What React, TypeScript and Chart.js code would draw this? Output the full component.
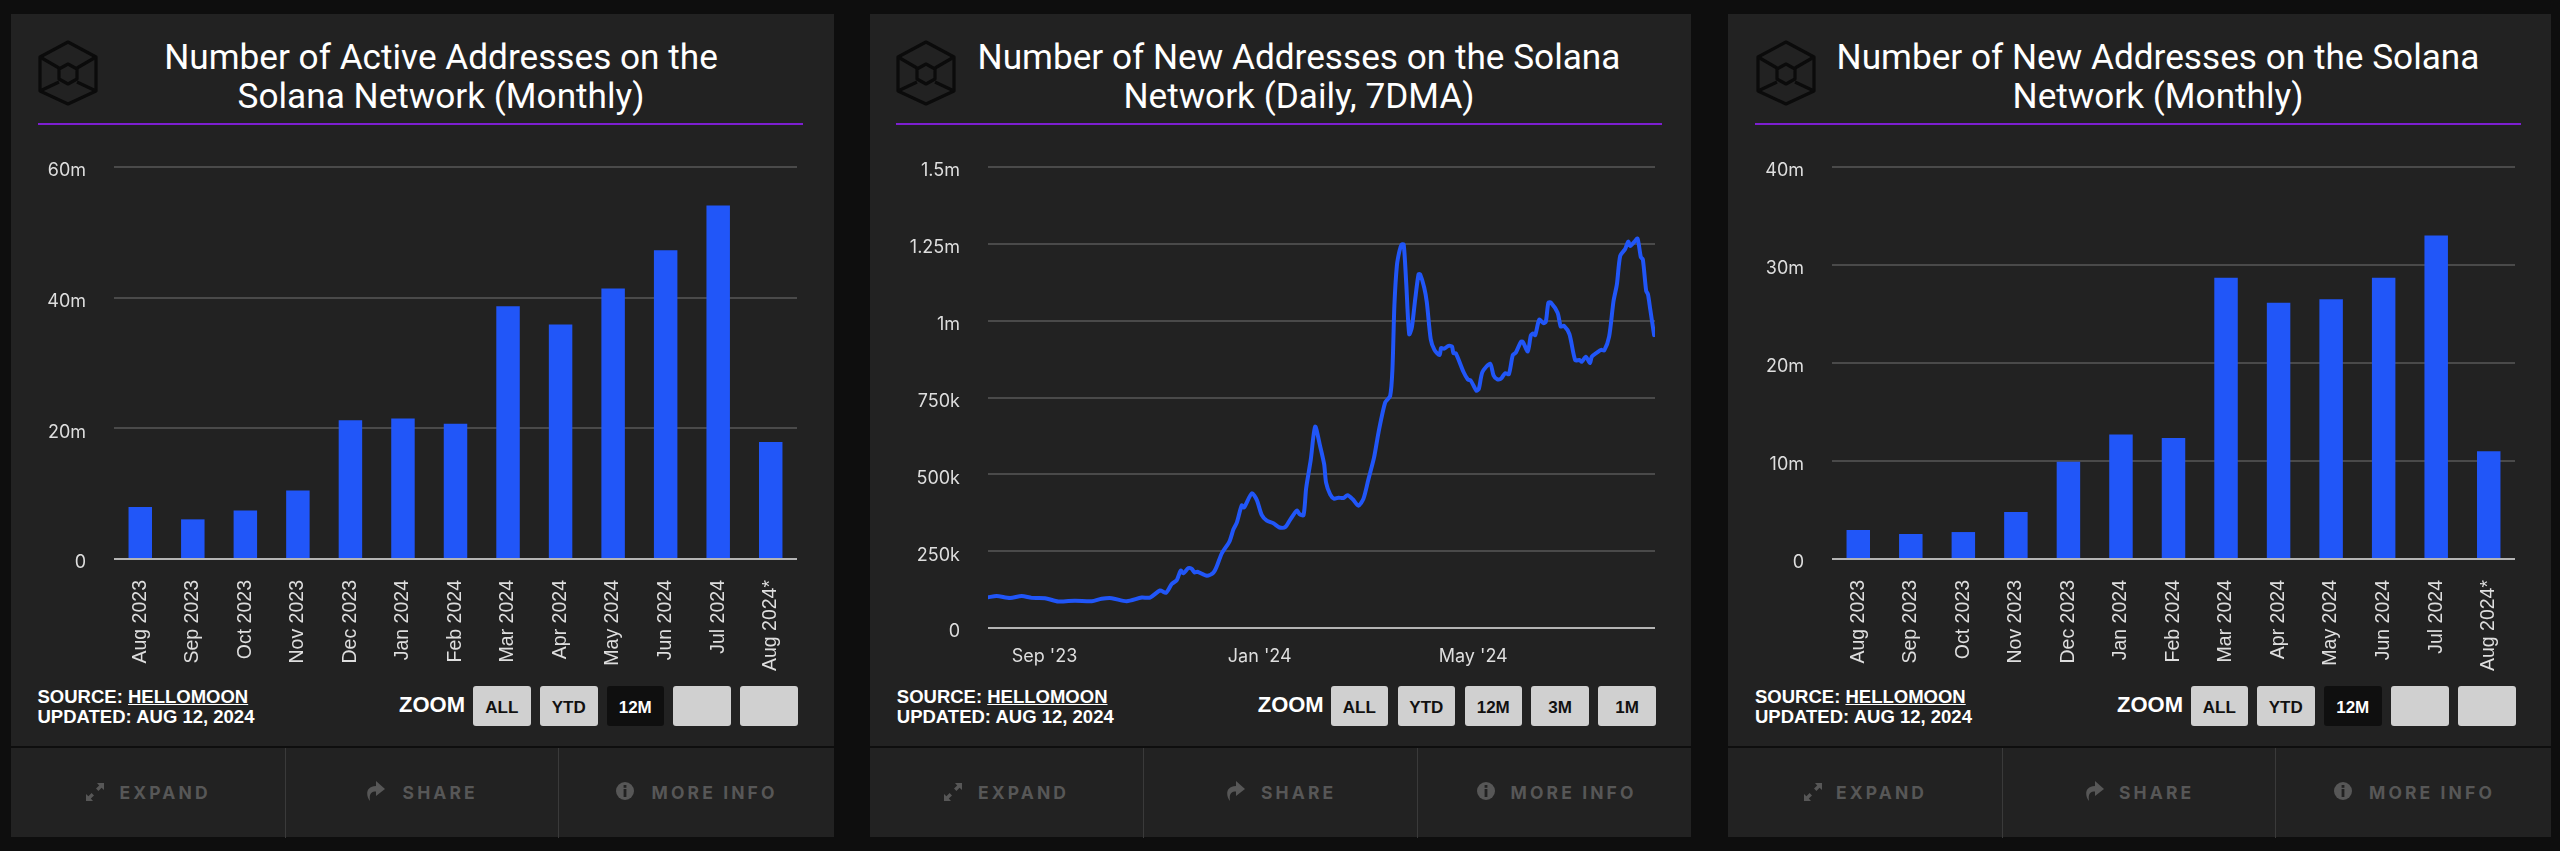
import React, { useEffect, useRef } from "react";
import { Chart, registerables } from "chart.js";

Chart.register(...registerables);

const monthLabels = ["Aug 2023", "Sep 2023", "Oct 2023", "Nov 2023", "Dec 2023", "Jan 2024", "Feb 2024", "Mar 2024", "Apr 2024", "May 2024", "Jun 2024", "Jul 2024", "Aug 2024*"];
const activeAddresses = [7.95, 6.07, 7.44, 10.5, 21.25, 21.5, 20.7, 38.7, 35.9, 41.4, 47.25, 54.1, 17.9];
const newAddressesMonthly = [2.96, 2.55, 2.75, 4.8, 9.93, 12.7, 12.35, 28.7, 26.15, 26.5, 28.7, 33, 11];
const activeTickLabels = ["0", "20m", "40m", "60m"];
const monthlyTickLabels = ["0", "10m", "20m", "30m", "40m"];
const dailyTickLabels = ["0", "250k", "500k", "750k", "1m", "1.25m", "1.5m"];
const dailyMonthDays = [32, 154, 275];
const dailyMonthLabels = ["Sep '23", "Jan '24", "May '24"];

// days since the start of the window
const dailyDays = [0, 4.9, 12.5, 19.1, 24.8, 32.3, 39.9, 49.3, 58.8, 64.4, 70.1, 78.6, 87.1, 91.8, 97.5, 100.9, 104.1, 107, 109.2, 110.7, 113.6, 115.5, 117, 118.7, 124, 127.7, 129.6, 132.5, 136.8, 139.1, 141, 143.8, 145.1, 149.5, 152.3, 155.1, 158, 161.7, 165.2, 168.4, 171.2, 175, 176.5, 178.8, 180.3, 182.9, 185.4, 188.2, 190.5, 191.6, 193.9, 196.1, 198.6, 201.4, 203.7, 206.7, 209.9, 212.8, 215.6, 218.8, 221.3, 225.1, 227.9, 229.2, 230.3, 231.7, 233.2, 234.5, 235.6, 237, 238.7, 240.2, 242.1, 244, 244.9, 247.2, 248.7, 250.9, 253, 255.9, 256.8, 258.5, 261, 262.9, 263.8, 265.1, 269.5, 271.9, 273.6, 276.8, 278.2, 280.2, 284.6, 286.5, 288.7, 290.8, 293.1, 295.2, 297.4, 299.1, 302, 303.1, 305.9, 307.6, 308.8, 310.1, 312.4, 314.8, 316.1, 317.6, 319, 322.8, 324.6, 326.5, 329.5, 332.8, 335.2, 336.5, 338.8, 341.1, 342.2, 345.1, 347.5, 349.2, 352, 354.5, 356.4, 358.3, 361.1, 362.8, 364, 366.4, 368.1, 370, 371.1, 373, 374, 375.3, 377.5];
const dailyNewAddresses = [100, 104, 98, 104, 98, 97, 86, 89, 87, 95, 97, 87, 99, 99, 122, 115, 143, 156, 187, 178, 195, 192, 181, 183, 170, 180, 200, 243, 281, 321, 343, 399, 392, 438, 417, 368, 349, 341, 327, 328, 352, 382, 371, 367, 455, 547, 655, 592, 533, 473, 435, 421, 424, 423, 432, 419, 398, 421, 484, 555, 636, 734, 755, 842, 1048, 1178, 1227, 1248, 1248, 1124, 956, 978, 1070, 1151, 1151, 1108, 1059, 940, 905, 888, 911, 909, 918, 916, 894, 894, 833, 809, 805, 772, 779, 833, 860, 822, 809, 812, 829, 826, 888, 896, 931, 931, 900, 951, 958, 953, 1003, 992, 996, 1059, 1059, 1026, 981, 983, 956, 871, 872, 866, 883, 862, 883, 896, 905, 903, 948, 1064, 1118, 1211, 1233, 1257, 1243, 1257, 1267, 1206, 1200, 1097, 1086, 1037, 953];

const titles = [
  ["Number of Active Addresses on the", "Solana Network (Monthly)"],
  ["Number of New Addresses on the Solana", "Network (Daily, 7DMA)"],
  ["Number of New Addresses on the Solana", "Network (Monthly)"],
];
const zoomLabels = [["ALL", "YTD", "12M", "", ""], ["ALL", "YTD", "12M", "3M", "1M"], ["ALL", "YTD", "12M", "", ""]];

const BLUE = "#2156f8";
const NARROW = "'Liberation Sans Narrow', 'Liberation Sans', sans-serif";
const UI = "Inter, sans-serif";
const CANVAS_TOP = 140;
const CANVAS_H = 540;
const TOP = 167;
const panels = [
  { left: 11, width: 823, gridL: 114, gridR: 797, base: 559, text: 37.5, rule: [37.5, 803], logo: 40, center: 441, zoomX: 399, btn: [473, 540, 606.5, 673, 740], btnW: 57.5, div: [284.7, 558.4], exp: [86, 119.6], sh: [366, 402.6], mi: [616, 651.6] },
  { left: 870, width: 821, gridL: 988, gridR: 1655, base: 628, text: 896.8, rule: [896, 1662], logo: 898, center: 1299, zoomX: 1257.7, btn: [1330.6, 1397.6, 1464.5, 1531.4, 1598.3], btnW: 57.5, div: [1142.5, 1417], exp: [944, 978], sh: [1226.4, 1261], mi: [1476.6, 1510.6] },
  { left: 1728, width: 823, gridL: 1832, gridR: 2515, base: 559, text: 1755, rule: [1755, 2521], logo: 1758, center: 2158, zoomX: 2117, btn: [2190.6, 2257, 2324, 2391, 2458], btnW: 57.5, div: [2001.5, 2275], exp: [1804, 1836], sh: [2084.7, 2119], mi: [2334, 2369] },
];

function gridOpts() {
  return {
    drawTicks: false,
    color: (c: any) => (c.tick && c.tick.value === 0 ? "#b4b4b4" : "#4a4a4a"),
    lineWidth: 2,
  };
}

function yAxis(p: any, max: number, step: number, labels: string[]) {
  return {
    min: 0,
    max,
    border: { display: false },
    grid: gridOpts(),
    afterFit: (s: any) => { s.width = p.gridL - p.left; s.paddingTop = 0; s.paddingBottom = 0; },
    ticks: {
      stepSize: step,
      padding: 28,
      color: "#dedede",
      labelOffset: 4,
      font: { family: UI, size: 18, weight: 400 },
      callback: (_v: any, i: number) => labels[i],
    },
  };
}

function buildConfig(i: number): any {
  const p = panels[i];
  const layout = { padding: { top: TOP - CANVAS_TOP, right: p.left + p.width - p.gridR, left: 0, bottom: 0 } };
  const plugins = { legend: { display: false }, tooltip: { enabled: false }, title: { display: false } };
  const xFit = (s: any) => { s.height = CANVAS_TOP + CANVAS_H - p.base; s.paddingLeft = 0; s.paddingRight = 0; };
  if (i === 1) {
    return {
      type: "line",
      data: {
        datasets: [{
          data: dailyDays.map((d, k) => ({ x: d, y: dailyNewAddresses[k] * 1000 })),
          borderColor: BLUE, borderWidth: 4, pointRadius: 0, tension: 0.25, borderJoinStyle: "round", borderCapStyle: "round",
        }],
      },
      options: {
        animation: false, responsive: false, parsing: false, layout, plugins,
        scales: {
          x: {
            type: "linear", min: 0, max: 378,
            border: { display: false }, grid: { display: false, drawTicks: false },
            afterFit: xFit,
            afterBuildTicks: (s: any) => { s.ticks = dailyMonthDays.map((value) => ({ value })); },
            ticks: {
              autoSkip: false, maxRotation: 0, minRotation: 0, padding: 18, color: "#dedede",
              font: { family: UI, size: 18, weight: 400 },
              callback: (_v: any, k: number) => dailyMonthLabels[k],
            },
          },
          y: yAxis(p, 1500000, 250000, dailyTickLabels),
        },
      },
    };
  }
  const values = i === 0 ? activeAddresses : newAddressesMonthly;
  return {
    type: "bar",
    data: {
      labels: monthLabels,
      datasets: [{ data: values, backgroundColor: BLUE, barPercentage: 0.447, categoryPercentage: 1 }],
    },
    options: {
      animation: false, responsive: false, layout, plugins,
      scales: {
        x: {
          border: { display: false }, grid: { display: false, drawTicks: false },
          afterFit: xFit,
          ticks: {
            autoSkip: false, maxRotation: 90, minRotation: 90, padding: 21, color: "#dedede",
            font: { family: "'Liberation Sans', Arial, sans-serif", size: 19.5 },
          },
        },
        y: i === 0 ? yAxis(p, 60, 20, activeTickLabels) : yAxis(p, 40, 10, monthlyTickLabels),
      },
    },
  };
}

function ChartCanvas({ i }: { i: number }) {
  const ref = useRef<HTMLCanvasElement>(null);
  const p = panels[i];
  useEffect(() => {
    const c = new Chart(ref.current as HTMLCanvasElement, buildConfig(i));
    return () => c.destroy();
  }, [i]);
  return <canvas ref={ref} width={p.width} height={CANVAS_H} style={{ position: "absolute", left: p.left, top: CANVAS_TOP, width: p.width, height: CANVAS_H }} />;
}

function Logo({ x }: { x: number }) {
  return (
    <svg style={{ position: "absolute", left: x, top: 40 }} width="62" height="66" viewBox="0 0 62 66" fill="none" stroke="#0b0b0b" strokeWidth="3.2" strokeLinejoin="round">
      <path d="M30 2 L58 17 L58 51 L30 64 L2 51 L2 17 Z" />
      <path d="M2 17 L21 28 M58 17 L39 28 M2 51 L21 42 M58 51 L39 42" />
      <path d="M30 24 L39 29 L39 39 L30 44 L21 39 L21 29 Z" />
    </svg>
  );
}

function ExpandIcon({ x }: { x: number }) {
  return (
    <svg style={{ position: "absolute", left: x, top: 783 }} width="18" height="18" viewBox="0 0 18 18" fill="#575757">
      <path d="M11 0 L18 0 L18 7 L15.6 4.8 L12.4 8 L10 5.6 L13.2 2.4 Z" />
      <path d="M7 18 L0 18 L0 11 L2.4 13.2 L5.6 10 L8 12.4 L4.8 15.6 Z" />
    </svg>
  );
}
function ShareIcon({ x }: { x: number }) {
  return (
    <svg style={{ position: "absolute", left: x, top: 781 }} width="19" height="20" viewBox="0 0 19 20" fill="#575757">
      <path d="M10 0 L19 8 L10 15 L10 10.5 C5 10.5 3 13 4 20 C0 16 -1 5 10 5 Z" />
    </svg>
  );
}
function InfoIcon({ x }: { x: number }) {
  return (
    <svg style={{ position: "absolute", left: x, top: 782 }} width="18" height="18" viewBox="0 0 18 18">
      <circle cx="9" cy="9" r="9" fill="#575757" />
      <rect x="7.6" y="3" width="2.8" height="2.8" fill="#222" />
      <rect x="7.6" y="7" width="2.8" height="8" fill="#222" />
    </svg>
  );
}

function Abs({ x, y, style, children }: any) {
  return <div style={{ position: "absolute", left: x, top: y, whiteSpace: "nowrap", ...style }}>{children}</div>;
}

function Panel({ i }: { i: number }) {
  const p = panels[i];
  const footer = { fontFamily: UI, fontWeight: 700, fontSize: 17.5, letterSpacing: 3.1, color: "#575757", lineHeight: "20px" };
  const foot = { fontFamily: NARROW, fontWeight: 700, fontSize: 18.5, color: "#fff", lineHeight: "20px" };
  return (
    <>
      <div style={{ position: "absolute", left: p.left, top: 14, width: p.width, height: 732, background: "#222222" }} />
      <div style={{ position: "absolute", left: p.left, top: 748, width: p.width, height: 89, background: "#222222" }} />
      {p.div.map((d) => <div key={d} style={{ position: "absolute", left: d, top: 748, width: 1, height: 90, background: "#3a3a3a" }} />)}
      <Logo x={p.logo - 2} />
      {titles[i].map((t, k) => (
        <Abs key={k} x={p.center - 400} y={37 + k * 39} style={{ width: 800, textAlign: "center", color: "#fff", fontFamily: "Roboto, sans-serif", fontWeight: 400, fontSize: 35.2, lineHeight: "40px" }}>{t}</Abs>
      ))}
      <div style={{ position: "absolute", left: p.rule[0], top: 122.5, width: p.rule[1] - p.rule[0], height: 2, background: "#7d1fd0" }} />
      <ChartCanvas i={i} />
      <Abs x={p.text} y={687} style={foot}>SOURCE: <span style={{ textDecoration: "underline" }}>HELLOMOON</span></Abs>
      <Abs x={p.text} y={707} style={foot}>UPDATED: AUG 12, 2024</Abs>
      <Abs x={p.zoomX} y={695} style={{ ...foot, fontSize: 22 }}>ZOOM</Abs>
      {p.btn.map((bx, k) => {
        const active = zoomLabels[i][k] === "12M" && i !== 1;
        return (
          <div key={k} style={{ position: "absolute", left: bx, top: 685.5, width: p.btnW, height: 40, borderRadius: 3, background: active ? "#0f0f0f" : "#d0d0d0", color: active ? "#fff" : "#111", fontFamily: NARROW, fontWeight: 700, fontSize: 17, lineHeight: "44px", textAlign: "center" }}>
            {zoomLabels[i][k]}
          </div>
        );
      })}
      <ExpandIcon x={p.exp[0]} />
      <Abs x={p.exp[1]} y={783} style={footer}>EXPAND</Abs>
      <ShareIcon x={p.sh[0]} />
      <Abs x={p.sh[1]} y={783} style={footer}>SHARE</Abs>
      <InfoIcon x={p.mi[0]} />
      <Abs x={p.mi[1]} y={783} style={footer}>MORE INFO</Abs>
    </>
  );
}

export default function App() {
  return (
    <div style={{ position: "fixed", left: 0, top: 0, width: 2560, height: 851, background: "#0e0e0e", overflow: "hidden" }}>
      <Panel i={0} />
      <Panel i={1} />
      <Panel i={2} />
    </div>
  );
}
